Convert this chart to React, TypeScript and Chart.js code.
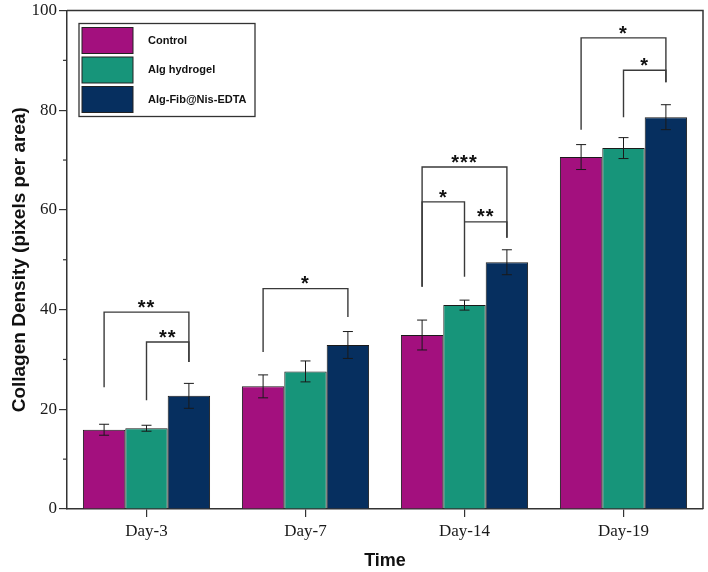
import React, { useEffect, useRef } from "react";
import { Chart, registerables } from "chart.js";

Chart.register(...registerables);

const categories = ["Day-3", "Day-7", "Day-14", "Day-19"];
const seriesNames = ["Control", "Alg hydrogel", "Alg-Fib@Nis-EDTA"];
const controlValues = [15.9, 24.6, 34.9, 70.6];
const hydrogelValues = [16.2, 27.6, 40.9, 72.4];
const algFibValues = [22.7, 32.9, 49.5, 78.6];
const controlErrors = [1.1, 2.3, 3.0, 2.5];
const hydrogelErrors = [0.6, 2.1, 1.0, 2.1];
const algFibErrors = [2.5, 2.7, 2.5, 2.5];
const yMinorTicks = [10, 30, 50, 70, 90];
const seriesColors = ["#A3107E", "#17957A", "#062F5F"];

// significance brackets: category, from series, to series, bracket level, left leg bottom, right leg bottom, label
const bracketCats = [0, 0, 1, 2, 2, 2, 3, 3];
const bracketFrom = [0, 1, 0, 0, 0, 1, 0, 1];
const bracketTo = [2, 2, 2, 2, 1, 2, 2, 2];
const bracketLevel = [39.5, 33.5, 44.2, 68.6, 61.6, 57.6, 94.5, 88.0];
const bracketLeftBottom = [24.4, 21.8, 31.5, 44.6, 44.6, 57.6, 76.1, 78.6];
const bracketRightBottom = [29.5, 29.5, 38.5, 54.4, 46.6, 54.4, 85.6, 85.6];
const bracketLabels = ["**", "**", "*", "***", "*", "**", "*", "*"];

const seriesValues = [controlValues, hydrogelValues, algFibValues];
const seriesErrors = [controlErrors, hydrogelErrors, algFibErrors];

export default function App() {
  const ref = useRef<HTMLCanvasElement>(null);

  useEffect(() => {
    const canvas = ref.current;
    if (!canvas) return;

    const overlay = {
      id: "overlay",
      afterDatasetsDraw(chart: any) {
        const ctx: CanvasRenderingContext2D = chart.ctx;
        const ca = chart.chartArea;
        const ys = chart.scales.y;
        ctx.save();

        // error bars
        ctx.strokeStyle = "#1a1a1a";
        ctx.lineWidth = 1;
        seriesValues.forEach((vals, i) => {
          const meta = chart.getDatasetMeta(i);
          vals.forEach((v, j) => {
            const bar = meta.data[j];
            const e = seriesErrors[i][j];
            const yt = ys.getPixelForValue(v + e);
            const yb = ys.getPixelForValue(v - e);
            const x = bar.x;
            ctx.beginPath();
            ctx.moveTo(x, yt);
            ctx.lineTo(x, yb);
            ctx.moveTo(x - 5, yt);
            ctx.lineTo(x + 5, yt);
            ctx.moveTo(x - 5, yb);
            ctx.lineTo(x + 5, yb);
            ctx.stroke();
          });
        });

        // significance brackets
        ctx.strokeStyle = "#3a3a3a";
        ctx.lineWidth = 1.4;
        ctx.fillStyle = "#111";
        ctx.font = "bold 20px 'Liberation Sans', Arial, sans-serif";
        ctx.textAlign = "center";
        ctx.textBaseline = "alphabetic";
        (ctx as any).letterSpacing = "1px";
        bracketCats.forEach((c, k) => {
          const x1 = chart.getDatasetMeta(bracketFrom[k]).data[c].x;
          const x2 = chart.getDatasetMeta(bracketTo[k]).data[c].x;
          const yl = ys.getPixelForValue(bracketLevel[k]);
          ctx.beginPath();
          ctx.moveTo(x1, ys.getPixelForValue(bracketLeftBottom[k]));
          ctx.lineTo(x1, yl);
          ctx.lineTo(x2, yl);
          ctx.lineTo(x2, ys.getPixelForValue(bracketRightBottom[k]));
          ctx.stroke();
          ctx.fillText(bracketLabels[k], (x1 + x2) / 2, yl - 10 + 11.6);
        });
        (ctx as any).letterSpacing = "0px";

        // frame top/right
        ctx.strokeStyle = "#333";
        ctx.lineWidth = 1.5;
        ctx.beginPath();
        ctx.moveTo(ca.left, ca.top);
        ctx.lineTo(ca.right, ca.top);
        ctx.lineTo(ca.right, ca.bottom);
        ctx.stroke();

        // minor ticks
        ctx.lineWidth = 1.2;
        yMinorTicks.forEach((v) => {
          const y = ys.getPixelForValue(v);
          ctx.beginPath();
          ctx.moveTo(ca.left - 4, y);
          ctx.lineTo(ca.left, y);
          ctx.stroke();
        });

        // legend
        const lx = ca.left + 12;
        const ly = ca.top + 13;
        ctx.fillStyle = "#fff";
        ctx.fillRect(lx, ly, 176, 93);
        ctx.strokeStyle = "#333";
        ctx.lineWidth = 1.3;
        ctx.strokeRect(lx, ly, 176, 93);
        ctx.font = "bold 11px 'Liberation Sans', Arial, sans-serif";
        ctx.textAlign = "left";
        ctx.textBaseline = "middle";
        seriesNames.forEach((name, i) => {
          const sy = ly + 4 + i * 29.5;
          ctx.fillStyle = seriesColors[i];
          ctx.fillRect(lx + 3, sy, 51, 26);
          ctx.strokeStyle = "#222";
          ctx.lineWidth = 1;
          ctx.strokeRect(lx + 3, sy, 51, 26);
          ctx.fillStyle = "#111";
          ctx.fillText(name, lx + 69, sy + 13);
        });

        ctx.restore();
      },
    };

    const chart = new Chart(canvas, {
      type: "bar",
      data: {
        labels: categories,
        datasets: seriesValues.map((vals, i) => ({
          label: seriesNames[i],
          data: vals,
          backgroundColor: seriesColors[i],
          borderColor: "#1a1a1a",
          borderWidth: 1,
          categoryPercentage: 0.8,
          barPercentage: 1.0,
        })),
      },
      options: {
        responsive: false,
        animation: false,
        devicePixelRatio: 1,
        layout: { padding: { left: 0, right: 5, top: 10, bottom: 0 } },
        plugins: { legend: { display: false }, tooltip: { enabled: false } },
        scales: {
          x: {
            grid: {
              display: true,
              drawOnChartArea: false,
              drawTicks: true,
              tickLength: 8,
              offset: false,
              color: "#333",
              lineWidth: 1.2,
            },
            border: { display: true, color: "#333", width: 1.5 },
            ticks: {
              font: { family: "'Liberation Serif', 'Times New Roman', serif", size: 17 },
              color: "#1a1a1a",
              padding: 4,
              maxRotation: 0,
            },
            title: {
              display: true,
              text: "Time",
              font: { family: "'Liberation Sans', Arial, sans-serif", size: 18, weight: "bold" },
              color: "#111",
              padding: { top: 0, bottom: 0 },
            },
            afterFit: (s: any) => {
              s.height = 63;
            },
          },
          y: {
            min: 0,
            max: 100,
            grid: {
              display: true,
              drawOnChartArea: false,
              drawTicks: true,
              tickLength: 8,
              color: "#333",
              lineWidth: 1.2,
            },
            border: { display: true, color: "#333", width: 1.5 },
            ticks: {
              stepSize: 20,
              font: { family: "'Liberation Serif', 'Times New Roman', serif", size: 17, lineHeight: 1 },
              color: "#1a1a1a",
              padding: 2,
            },
            title: {
              display: true,
              text: "Collagen Density (pixels per area)",
              font: { family: "'Liberation Sans', Arial, sans-serif", size: 19, weight: "bold" },
              color: "#111",
              padding: { top: 8, bottom: 0 },
            },
            afterFit: (s: any) => {
              s.width = 67;
            },
          },
        },
      },
      plugins: [overlay],
    } as any);

    return () => chart.destroy();
  }, []);

  return (
    <div style={{ position: "absolute", left: 0, top: 0, width: 708, height: 572, background: "#fff" }}>
      <canvas ref={ref} width={708} height={572} style={{ display: "block", width: 708, height: 572 }} />
    </div>
  );
}
